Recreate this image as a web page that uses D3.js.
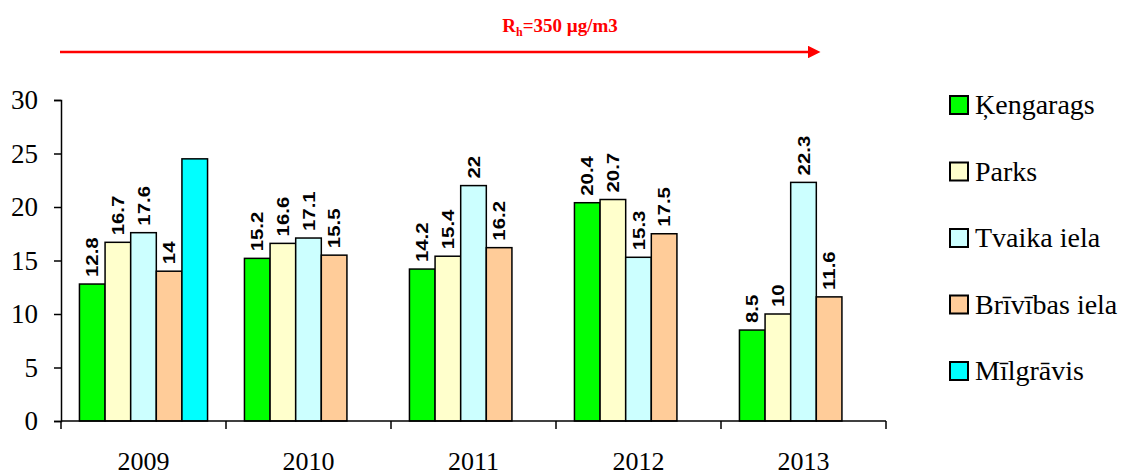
<!DOCTYPE html>
<html>
<head>
<meta charset="utf-8">
<script src="https://cdn.jsdelivr.net/npm/d3@7"></script>
<style>
  body { margin: 0; background: #fff; }
  svg { display: block; }
</style>
</head>
<body>
<script>
// data
const years = ["2009", "2010", "2011", "2012", "2013"];
const stations = ["Ķengarags", "Parks", "Tvaika iela", "Brīvības iela", "Mīlgrāvis"];
const kengarags = [12.8, 15.2, 14.2, 20.4, 8.5];
const parks = [16.7, 16.6, 15.4, 20.7, 10];
const tvaika = [17.6, 17.1, 22, 15.3, 22.3];
const brivibas = [14, 15.5, 16.2, 17.5, 11.6];
const milgravis = [24.5, null, null, null, null];
const yTicks = [0, 5, 10, 15, 20, 25, 30];
const colors = ["#00ff00", "#ffffcc", "#ccffff", "#ffcc99", "#00ffff"];

const seriesValues = [kengarags, parks, tvaika, brivibas, milgravis];
const showLabel = [true, true, true, true, false];

const serif = "'Liberation Serif', 'Times New Roman', serif";
const sans = "'Liberation Sans', Arial, sans-serif";

const width = 1126, height = 475;
const margin = { left: 61, right: 240, top: 100, bottom: 54 };

const svg = d3.select("body").append("svg")
    .attr("width", width)
    .attr("height", height);

const x0 = d3.scaleBand()
    .domain(years)
    .range([margin.left, width - margin.right])
    .paddingInner(0)
    .paddingOuter(0);

const x1 = d3.scaleBand()
    .domain(stations)
    .range([0, x0.bandwidth()])
    .paddingInner(0)
    .paddingOuter(0.72);

const y = d3.scaleLinear()
    .domain([0, 30])
    .range([height - margin.bottom, margin.top]);

// flatten into records for drawing
let records = [];
years.forEach((yr, i) => {
    stations.forEach((st, j) => {
        const v = seriesValues[j][i];
        if (v != null) records.push({ year: yr, station: st, value: v, idx: j });
    });
});

// bars
svg.append("g")
    .selectAll("rect")
    .data(records)
    .enter()
    .append("rect")
    .attr("x", d => x0(d.year) + x1(d.station))
    .attr("y", d => y(d.value))
    .attr("width", x1.bandwidth())
    .attr("height", d => y(0) - y(d.value))
    .attr("fill", d => colors[d.idx])
    .attr("stroke", "#000")
    .attr("stroke-width", 1.5);

// value labels, rotated
svg.append("g")
    .selectAll("text")
    .data(records.filter(d => showLabel[d.idx]))
    .enter()
    .append("text")
    .attr("transform", d => {
        const cx = x0(d.year) + x1(d.station) + x1.bandwidth() / 2;
        const cy = y(d.value) - 7;
        return "translate(" + cx + "," + cy + ") rotate(-90) scale(1.2,1)";
    })
    .attr("dy", "0.36em")
    .attr("font-family", sans)
    .attr("font-weight", "bold")
    .attr("font-size", 17)
    .text(d => d.value);

// y axis
const yAxis = svg.append("g")
    .attr("transform", "translate(" + margin.left + ",0)")
    .call(d3.axisLeft(y).tickValues(yTicks).tickSize(7).tickPadding(16));
yAxis.attr("font-family", serif).attr("font-size", 27);
yAxis.select(".domain").attr("stroke", "#000").attr("stroke-width", 1.5);
yAxis.selectAll(".tick line").attr("stroke", "#000").attr("stroke-width", 1.5);
yAxis.selectAll("text").attr("fill", "#000");

// x axis: ticks between categories
const xAxis = svg.append("g")
    .attr("transform", "translate(0," + y(0) + ")");
xAxis.append("line")
    .attr("x1", margin.left)
    .attr("x2", width - margin.right)
    .attr("stroke", "#000")
    .attr("stroke-width", 1.5);
const boundaries = years.map(yr => x0(yr)).concat([x0(years[years.length - 1]) + x0.bandwidth()]);
xAxis.selectAll("line.tk")
    .data(boundaries)
    .enter()
    .append("line")
    .attr("class", "tk")
    .attr("x1", d => d).attr("x2", d => d)
    .attr("y1", 0).attr("y2", 8)
    .attr("stroke", "#000")
    .attr("stroke-width", 1.5);
xAxis.selectAll("text")
    .data(years)
    .enter()
    .append("text")
    .attr("x", d => x0(d) + x0.bandwidth() / 2)
    .attr("y", 49)
    .attr("text-anchor", "middle")
    .attr("font-family", serif)
    .attr("font-size", 26)
    .text(d => d);

// legend
const legend = svg.append("g")
    .selectAll("g")
    .data(stations)
    .enter()
    .append("g")
    .attr("transform", (d, i) => "translate(950," + (105 + i * 66.5) + ")");
legend.append("rect")
    .attr("x", 0).attr("y", -9)
    .attr("width", 18).attr("height", 18)
    .attr("fill", (d, i) => colors[i])
    .attr("stroke", "#000")
    .attr("stroke-width", 2);
legend.append("text")
    .attr("x", 25)
    .attr("y", 9)
    .attr("font-family", serif)
    .attr("font-size", 28)
    .text(d => d);

// red arrow with limit text
svg.append("defs").append("marker")
    .attr("id", "arrowhead")
    .attr("viewBox", "0 0 10 10")
    .attr("refX", 0).attr("refY", 5)
    .attr("markerWidth", 5).attr("markerHeight", 5)
    .attr("markerUnits", "strokeWidth")
    .attr("orient", "auto")
    .append("path")
    .attr("d", "M0,0 L10,5 L0,10 z")
    .attr("fill", "#ff0000");

svg.append("line")
    .attr("x1", 60).attr("x2", 808)
    .attr("y1", 52).attr("y2", 52)
    .attr("stroke", "#ff0000")
    .attr("stroke-width", 2.5)
    .attr("marker-end", "url(#arrowhead)");

const title = svg.append("text")
    .attr("x", 560)
    .attr("y", 32)
    .attr("text-anchor", "middle")
    .attr("font-family", serif)
    .attr("font-weight", "bold")
    .attr("font-size", 19)
    .attr("fill", "#ff0000");
title.append("tspan").text("R");
title.append("tspan").attr("font-size", 12).attr("dy", 4).text("h");
title.append("tspan").attr("dy", -4).text("=350 µg/m3");
</script>
</body>
</html>
